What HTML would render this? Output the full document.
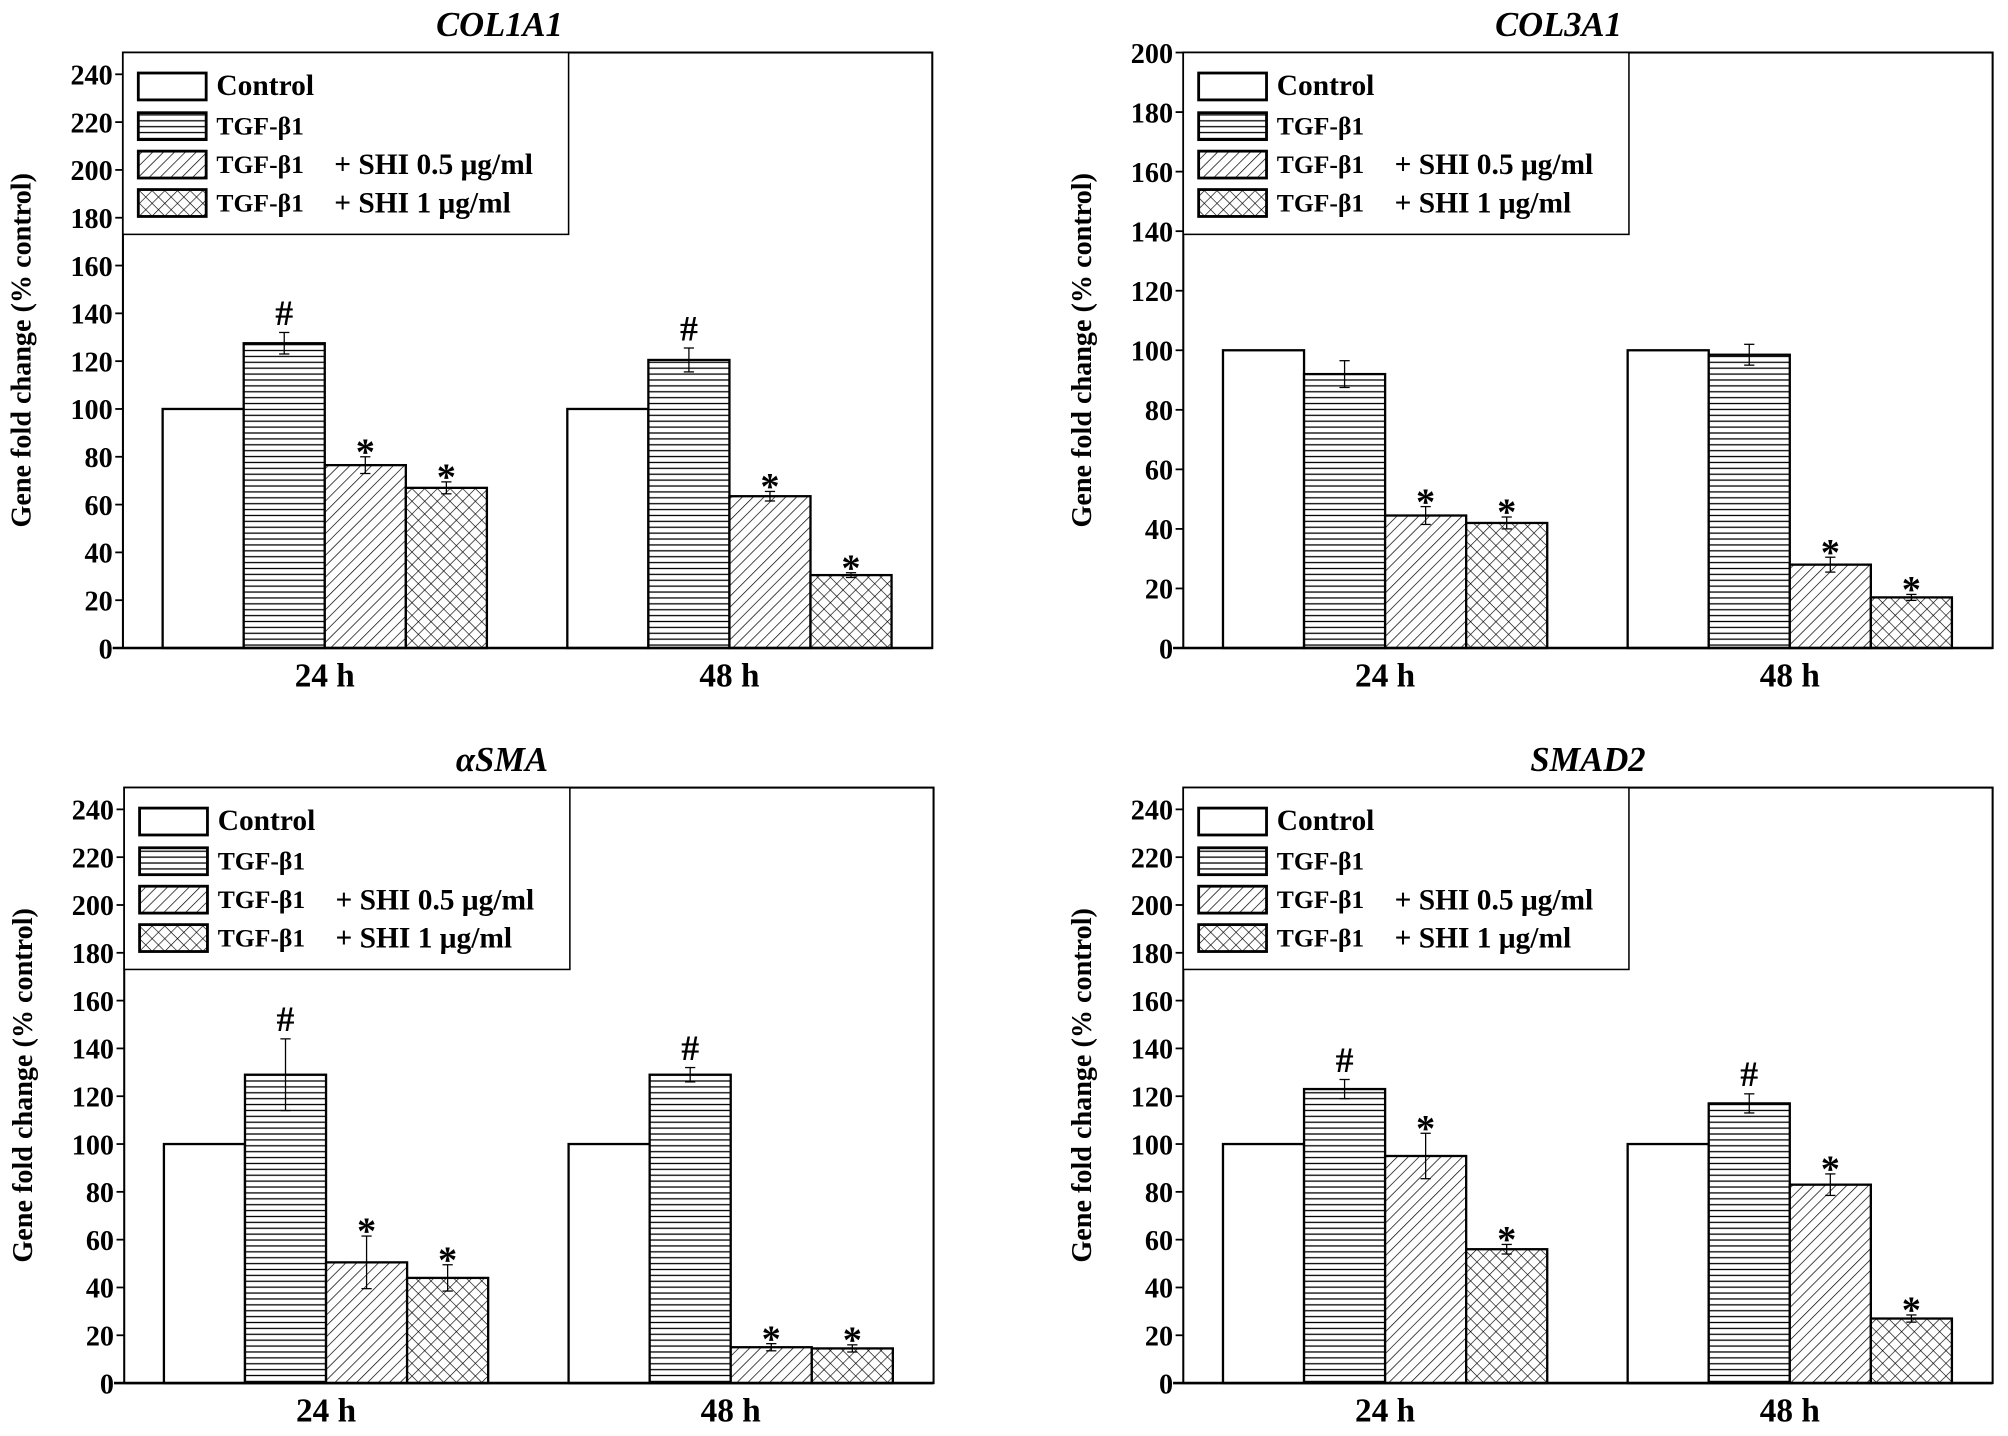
<!DOCTYPE html>
<html><head><meta charset="utf-8"><style>
html,body{margin:0;padding:0;background:#fff}
svg{display:block}
text{font-family:"Liberation Serif",serif;font-weight:bold;fill:#000}
</style></head><body>
<svg id="fig" width="2008" height="1436" viewBox="0 0 1568 1121.3" xmlns="http://www.w3.org/2000/svg">
<defs>
<pattern id="pH" patternUnits="userSpaceOnUse" width="8" height="4.6"><rect width="8" height="4.6" fill="#fff"/><line x1="0" y1="2.3" x2="8" y2="2.3" stroke="#000" stroke-width="1"/></pattern>
<pattern id="pD" patternUnits="userSpaceOnUse" width="6" height="6" patternTransform="rotate(45)"><rect width="6" height="6" fill="#fff"/><line x1="0" y1="0" x2="0" y2="6" stroke="#000" stroke-width="1.1"/></pattern>
<pattern id="pX" patternUnits="userSpaceOnUse" width="7" height="7" patternTransform="rotate(45)"><rect width="7" height="7" fill="#fff"/><line x1="0" y1="0" x2="0" y2="7" stroke="#000" stroke-width="1"/><line x1="0" y1="0" x2="7" y2="0" stroke="#000" stroke-width="1"/></pattern>
</defs>
</svg>
<script>
const groups = ["24 h", "48 h"];
const seriesNames = ["Control", "TGF-β1", "TGF-β1 + SHI 0.5 μg/ml", "TGF-β1 + SHI 1 μg/ml"];
const col1a1Values = [[100, 127.5, 76.5, 67], [100, 120.5, 63.5, 30.5]];
const col1a1Errors = [[0, 4.5, 3.5, 2.5], [0, 5, 2, 1]];
const col1a1Marks = [["", "#", "*", "*"], ["", "#", "*", "*"]];
const col3a1Values = [[100, 92, 44.5, 42], [100, 98.5, 28, 17]];
const col3a1Errors = [[0, 4.5, 3, 2], [0, 3.5, 2.5, 1]];
const col3a1Marks = [["", "", "*", "*"], ["", "", "*", "*"]];
const asmaValues = [[100, 129, 50.5, 44], [100, 129, 15, 14.5]];
const asmaErrors = [[0, 15, 11, 5.5], [0, 3, 1.5, 1.5]];
const asmaMarks = [["", "#", "*", "*"], ["", "#", "*", "*"]];
const smad2Values = [[100, 123, 95, 56], [100, 117, 83, 27]];
const smad2Errors = [[0, 4, 9.5, 2], [0, 4, 4.5, 1.5]];
const smad2Marks = [["", "#", "*", "*"], ["", "#", "*", "*"]];
const ticks240 = [0,20,40,60,80,100,120,140,160,180,200,220,240];
const ticks200 = [0,20,40,60,80,100,120,140,160,180,200];

const NS="http://www.w3.org/2000/svg";
const svg=document.getElementById('fig');
function mk(tag,attrs,parent){const e=document.createElementNS(NS,tag);for(const k in attrs)e.setAttribute(k,attrs[k]);(parent||svg).appendChild(e);return e;}
const fills=["#fff","url(#pH)","url(#pD)","url(#pX)"];

function panel(cfg){
  const g=mk('g',{});
  
  
  const L=cfg.x0,R=cfg.x0+632,T=cfg.y0,B=cfg.y0+465;
  const yTop=cfg.yTopPx;
  const y=v=>B-(B-yTop)*v/cfg.ymax;
  const bw=63.3;
  const gx=[L+31,L+347];
  const x=(gi,si)=>gx[gi]+si*bw;
  const t=mk('text',{x:cfg.tx,y:T-13,'text-anchor':'middle','font-size':27,'font-style':'italic'},g);
  t.textContent=cfg.title;
  
  
  for(let gi=0;gi<2;gi++)for(let si=0;si<4;si++){
    const v=cfg.values[gi][si],e=cfg.errors[gi][si];
    const r=mk('rect',{x:x(gi,si),y:y(v),width:bw,height:B-y(v),fill:fills[si],stroke:'#000','stroke-width':1.8},g);
    
    
    const cx=x(gi,si)+bw/2;
    if(e>0){
      mk('line',{x1:cx,x2:cx,y1:y(v+e),y2:y(v-e),stroke:'#000','stroke-width':1},g);
      mk('line',{x1:cx-4,x2:cx+4,y1:y(v+e),y2:y(v+e),stroke:'#000','stroke-width':1},g);
      mk('line',{x1:cx-4,x2:cx+4,y1:y(v-e),y2:y(v-e),stroke:'#000','stroke-width':1},g);
    }
    const m=cfg.marks[gi][si];
    if(m){const mt=mk('text',{x:cx,y:y(v+e)-(m=='#'?6:-6),'text-anchor':'middle','font-size':m=='#'?28:30},g);mt.textContent=m;
      
      }
  }
  mk('rect',{x:L,y:T,width:632,height:465,fill:'none',stroke:'#000','stroke-width':1.6},g);
  mk('line',{x1:L-8,x2:R,y1:B,y2:B,stroke:'#000','stroke-width':2},g);
  cfg.ticks.forEach(tv=>{
    mk('line',{x1:L-6,x2:L,y1:y(tv),y2:y(tv),stroke:'#000','stroke-width':1.4},g);
    const tl=mk('text',{x:L-8,y:y(tv)+8,'text-anchor':'end','font-size':22},g);tl.textContent=tv;
    
    
  });
  groups.forEach((gn,gi)=>{const xl=mk('text',{x:gx[gi]+2*bw,y:B+30,'text-anchor':'middle','font-size':26},g);xl.textContent=gn;
    
    });
  const yl=mk('text',{transform:`translate(${L-72},${(T+B)/2}) rotate(-90)`,'text-anchor':'middle','font-size':22},g);
  yl.textContent='Gene fold change (% control)';
  
  
  const lg=mk('g',{},g);
  
  
  mk('rect',{x:L,y:T,width:348,height:142,fill:'#fff',stroke:'#000','stroke-width':1.2},lg);
  const rows=[26,57,87,117];
  seriesNames.forEach((n,si)=>{
    const ry=T+rows[si];
    mk('rect',{x:L+12,y:ry-10,width:53,height:21,fill:fills[si],stroke:'#000','stroke-width':2.2},lg);
    const tx=mk('text',{x:L+73,y:ry+7,'font-size':si==0?23:20},lg);
    tx.textContent=si==0?n:'TGF-β1';
    if(si>=2){const t2=mk('text',{x:L+165,y:ry+8,'font-size':23},lg);t2.textContent=n.replace('TGF-β1 ','');}
  });
}
panel({name:'col1a1',title:'COL1A1',x0:96,y0:41,yTopPx:58,ymax:240,ticks:ticks240,tx:390,values:col1a1Values,errors:col1a1Errors,marks:col1a1Marks});
panel({name:'col3a1',title:'COL3A1',x0:924,y0:41,yTopPx:41,ymax:200,ticks:ticks200,tx:1217,values:col3a1Values,errors:col3a1Errors,marks:col3a1Marks});
panel({name:'asma',title:'αSMA',x0:97,y0:615,yTopPx:632,ymax:240,ticks:ticks240,tx:392,values:asmaValues,errors:asmaErrors,marks:asmaMarks});
panel({name:'smad2',title:'SMAD2',x0:924,y0:615,yTopPx:632,ymax:240,ticks:ticks240,tx:1240,values:smad2Values,errors:smad2Errors,marks:smad2Marks});
</script>
</body></html>
